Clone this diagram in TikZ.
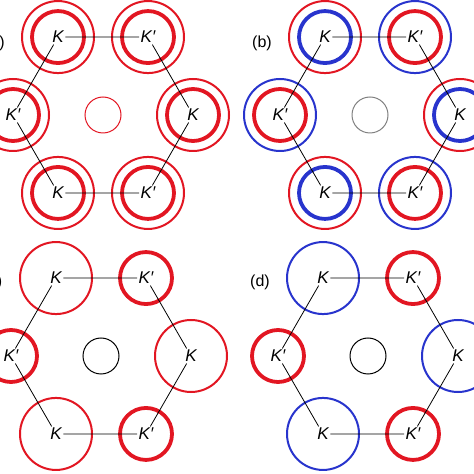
\documentclass[tikz,border=0pt]{standalone}
\usepackage{fontspec}
\setmainfont{Liberation Sans}
\usetikzlibrary{positioning}
\definecolor{ringred}{RGB}{226,22,34}
\definecolor{ringblue}{RGB}{40,52,205}

\begin{document}
\begin{tikzpicture}[
        x=1pt, y=1pt,
        valley/.style={
            font=\fontsize{17}{19}\selectfont\itshape,
            inner sep=1.5pt
        },
        panel/.style={font=\fontsize{16}{18}\selectfont},
        bond/.style={line width=0.8pt},
        thickring/.style={line width=3.8pt},
        thinring/.style={line width=2pt},
        gammaring/.style={line width=1pt}
    ]
    \useasboundingbox (0,0) rectangle (474,474);
    \clip (0,0) rectangle (474,474);

    % (a) all rings red
    \begin{scope}[shift={(103,359)}]
        \coordinate (a0) at (0,0);
        \node[valley] (a1) at (120:90) {K};
        \node[valley] (a2) at (60:90) {K′};
        \node[valley] (a3) at (0:90) {K};
        \node[valley] (a4) at (300:90) {K′};
        \node[valley] (a5) at (240:90) {K};
        \node[valley] (a6) at (180:90) {K′};
    \end{scope}
    \foreach \v in {a1,a2,a3,a4,a5,a6} {
        \draw[ringred, thinring] (\v) circle[radius=36];
        \draw[ringred, thickring] (\v) circle[radius=26];
    }
    \draw[ringred, gammaring] (a0) circle[radius=18];
    \draw[bond] (a1) -- (a2) (a2) -- (a3) (a3) -- (a4)
        (a4) -- (a5) (a5) -- (a6) (a6) -- (a1);
    \node[panel] (laba) at (-5,431) {(a)};

    % (b) K: red outside, blue inside; K': the other way round
    \begin{scope}[shift={(370,359)}]
        \coordinate (b0) at (0,0);
        \node[valley] (b1) at (120:90) {K};
        \node[valley] (b2) at (60:90) {K′};
        \node[valley] (b3) at (0:90) {K};
        \node[valley] (b4) at (300:90) {K′};
        \node[valley] (b5) at (240:90) {K};
        \node[valley] (b6) at (180:90) {K′};
    \end{scope}
    \foreach \v in {b1,b3,b5} {
        \draw[ringred, thinring] (\v) circle[radius=36];
        \draw[ringblue, thickring] (\v) circle[radius=26];
    }
    \foreach \v in {b2,b4,b6} {
        \draw[ringblue, thinring] (\v) circle[radius=36];
        \draw[ringred, thickring] (\v) circle[radius=26];
    }
    \draw[gray, gammaring] (b0) circle[radius=18];
    \draw[bond] (b1) -- (b2) (b2) -- (b3) (b3) -- (b4)
        (b4) -- (b5) (b5) -- (b6) (b6) -- (b1);
    \node[panel] (labb) at (262,431) {(b)};

    % (c) large red K, small thick red K'
    \begin{scope}[shift={(101,118)}]
        \coordinate (c0) at (0,0);
        \node[valley] (c1) at (120:90) {K};
        \node[valley] (c2) at (60:90) {K′};
        \node[valley] (c3) at (0:90) {K};
        \node[valley] (c4) at (300:90) {K′};
        \node[valley] (c5) at (240:90) {K};
        \node[valley] (c6) at (180:90) {K′};
    \end{scope}
    \foreach \v in {c1,c3,c5} {
        \draw[ringred, thinring] (\v) circle[radius=36];
    }
    \foreach \v in {c2,c4,c6} {
        \draw[ringred, thickring] (\v) circle[radius=26];
    }
    \draw[black, gammaring] (c0) circle[radius=18];
    \draw[bond] (c1) -- (c2) (c2) -- (c3) (c3) -- (c4)
        (c4) -- (c5) (c5) -- (c6) (c6) -- (c1);
    \node[panel] (labc) at (-7,192) {(c)};

    % (d) large blue K, small thick red K'
    \begin{scope}[shift={(368,118)}]
        \coordinate (d0) at (0,0);
        \node[valley] (d1) at (120:90) {K};
        \node[valley] (d2) at (60:90) {K′};
        \node[valley] (d3) at (0:90) {K};
        \node[valley] (d4) at (300:90) {K′};
        \node[valley] (d5) at (240:90) {K};
        \node[valley] (d6) at (180:90) {K′};
    \end{scope}
    \foreach \v in {d1,d3,d5} {
        \draw[ringblue, thinring] (\v) circle[radius=36];
    }
    \foreach \v in {d2,d4,d6} {
        \draw[ringred, thickring] (\v) circle[radius=26];
    }
    \draw[black, gammaring] (d0) circle[radius=18];
    \draw[bond] (d1) -- (d2) (d2) -- (d3) (d3) -- (d4)
        (d4) -- (d5) (d5) -- (d6) (d6) -- (d1);
    \node[panel] (labd) at (260,192) {(d)};
\end{tikzpicture}
\end{document}
